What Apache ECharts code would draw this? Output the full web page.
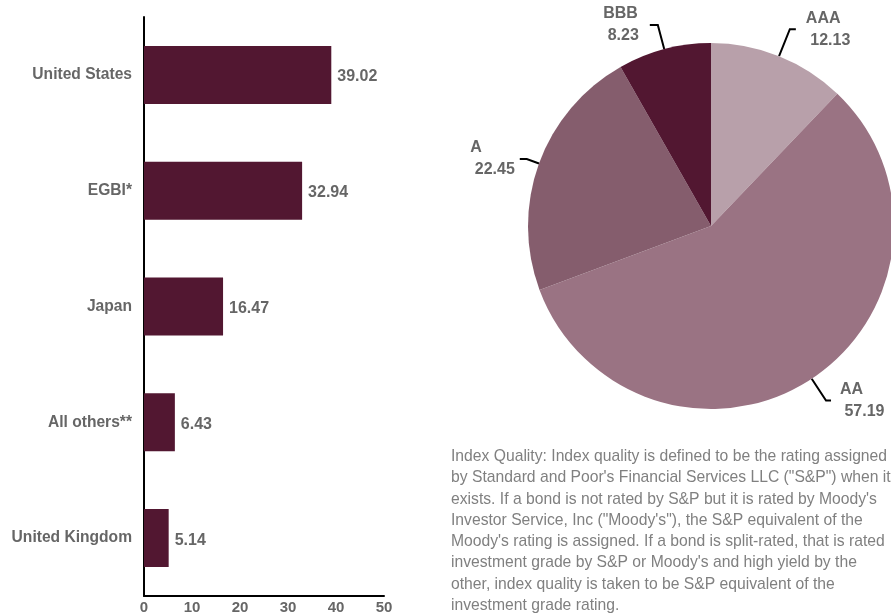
<!DOCTYPE html>
<html>
<head>
<meta charset="utf-8">
<script src="https://cdn.jsdelivr.net/npm/echarts@6/dist/echarts.min.js"></script>
<style>
html,body{margin:0;padding:0;background:#fff;}
#c{width:891px;height:616px;}
</style>
</head>
<body>
<div id="c"></div>
<script>
// ---- data ----
var countries = ['United States', 'EGBI*', 'Japan', 'All others**', 'United Kingdom'];
var countryValues = [39.02, 32.94, 16.47, 6.43, 5.14];
var xTicks = [0, 10, 20, 30, 40, 50];

var ratings = ['AAA', 'AA', 'A', 'BBB'];
var ratingValues = [12.13, 57.19, 22.45, 8.23];

var noteLines = [
  'Index Quality: Index quality is defined to be the rating assigned',
  'by Standard and Poor\'s Financial Services LLC ("S&P") when it',
  'exists. If a bond is not rated by S&P but it is rated by Moody\'s',
  'Investor Service, Inc ("Moody\'s"), the S&P equivalent of the',
  'Moody\'s rating is assigned. If a bond is split-rated, that is rated',
  'investment grade by S&P or Moody\'s and high yield by the',
  'other, index quality is taken to be S&P equivalent of the',
  'investment grade rating.'
];

// ---- styles ----
var FONT = '"Liberation Sans", Arial, Helvetica, sans-serif';
var TEXT = '#666666';
var BAR = '#521731';
var pieColors = ['#b8a0aa', '#9a7383', '#855d6d', '#521731'];
var lineCfg = [
  {length: 29, length2: 6, dist: 10},
  {length: 26, length2: 5, dist: 9},
  {length: 13, length2: 7, dist: 5},
  {length: 25, length2: 8, dist: 11}
];

var pieData = ratings.map(function (n, i) {
  return {
    name: n,
    value: ratingValues[i],
    itemStyle: {color: pieColors[i]},
    labelLine: {length: lineCfg[i].length, length2: lineCfg[i].length2},
    label: {distanceToLabelLine: lineCfg[i].dist}
  };
});

var chart = echarts.init(document.getElementById('c'), null, {renderer: 'canvas'});
chart.setOption({
  animation: false,
  backgroundColor: '#ffffff',
  textStyle: {fontFamily: FONT},
  grid: {left: 144, top: 17, width: 240, bottom: 20, containLabel: false},
  xAxis: {
    type: 'value',
    min: xTicks[0],
    max: xTicks[xTicks.length - 1],
    interval: xTicks[1] - xTicks[0],
    axisLine: {show: true, lineStyle: {color: '#000', width: 2}},
    axisTick: {show: false},
    splitLine: {show: false},
    axisLabel: {color: TEXT, fontWeight: 'bold', fontSize: 15, fontFamily: FONT, margin: 4}
  },
  yAxis: {
    type: 'category',
    data: countries,
    inverse: true,
    axisLine: {show: true, lineStyle: {color: '#000', width: 2}},
    axisTick: {show: false},
    axisLabel: {color: TEXT, fontWeight: 'bold', fontSize: 15.6, fontFamily: FONT, margin: 12}
  },
  series: [
    {
      type: 'bar',
      data: countryValues,
      barWidth: 58,
      itemStyle: {color: BAR},
      label: {
        show: true,
        position: 'right',
        distance: 6,
        offset: [0, 2],
        color: TEXT,
        fontWeight: 'bold',
        fontSize: 16,
        fontFamily: FONT
      }
    },
    {
      type: 'pie',
      center: [711, 226],
      radius: 183,
      startAngle: 90,
      clockwise: true,
      avoidLabelOverlap: false,
      data: pieData,
      label: {
        show: true,
        position: 'outside',
        formatter: '{n|{b}}\n{v| {c}}',
        rich: {
          n: {align: 'left', color: TEXT, fontWeight: 'bold', fontSize: 16, fontFamily: FONT, lineHeight: 22},
          v: {align: 'left', color: TEXT, fontWeight: 'bold', fontSize: 16, fontFamily: FONT, lineHeight: 22}
        }
      },
      labelLine: {show: true, smooth: false, lineStyle: {color: '#000', width: 2}}
    }
  ],
  graphic: [
    {
      type: 'text',
      left: 451,
      top: 446,
      style: {
        text: noteLines.join('\n'),
        fill: '#808080',
        fontSize: 15.7,
        fontFamily: FONT,
        lineHeight: 21.3
      }
    }
  ]
});
</script>
</body>
</html>
